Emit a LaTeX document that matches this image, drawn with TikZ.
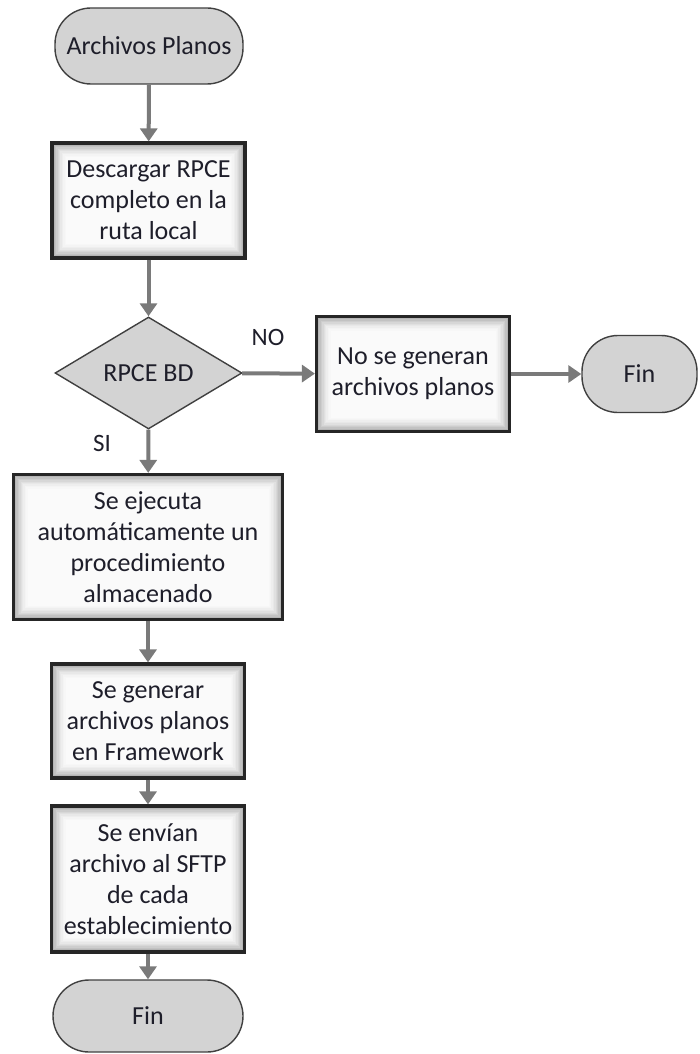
\documentclass[tikz,border=0pt]{standalone}
\usepackage{fontspec}
\setmainfont{Carlito}
\usetikzlibrary{shapes.geometric,arrows.meta}

\definecolor{termfill}{HTML}{D3D3D3}
\definecolor{edgegray}{HTML}{7A7A7A}
\definecolor{boxedge}{HTML}{262626}
\definecolor{txt}{HTML}{1E1E2A}

\tikzset{
  every node/.style={font=\fontsize{26}{31}\selectfont, text=txt, align=center},
  terminal/.style={draw=black!75, line width=1.4pt, fill=termfill,
    rounded corners=36pt, inner sep=0pt},
  decision/.style={diamond, draw=black!75, line width=1.4pt, fill=termfill,
    inner sep=0pt},
  % process box: dark frame with a soft grey inner glow toward the edges
  process/.style={draw=boxedge, line width=3.2pt, inner sep=0pt,
    path picture={
      \foreach \i/\c in {0/30,1/42,2/52,3/61,4/69,5/76,6/82,7/87,8/91,9/94,10/96}{
        \fill[white!\c!gray]
          ([shift={(\i*1.4pt,-\i*1.4pt)}]path picture bounding box.north west)
          rectangle
          ([shift={(-\i*1.4pt,\i*1.4pt)}]path picture bounding box.south east);
      }
    }},
  flow/.style={draw=edgegray, line width=4pt,
    -{Triangle[width=17pt,length=13pt]}},
  branch/.style={font=\fontsize{25}{28}\selectfont}
}

\begin{document}
\begin{tikzpicture}[x=1pt, y=-1pt]
  \useasboundingbox (0,0) rectangle (699,1054);

  \node[terminal, minimum width=188pt, minimum height=76pt] (start) at (149,46) {Archivos Planos};

  \node[process, minimum width=193pt, minimum height=115pt] (dl) at (148.5,200.5)
    {Descargar RPCE\\completo en la\\ruta local};

  \node[decision, minimum width=187pt, minimum height=112pt] (dec) at (148.5,373) {RPCE BD};

  \node[process, minimum width=193pt, minimum height=115pt] (nogen) at (413,374)
    {No se generan\\archivos planos};

  \node[terminal, minimum width=115pt, minimum height=77pt] (fin1) at (639.5,374) {Fin};

  \node[process, minimum width=269pt, minimum height=145pt] (exec) at (148,547)
    {Se ejecuta\\automáticamente un\\procedimiento\\almacenado};

  \node[process, minimum width=193pt, minimum height=114pt] (gen) at (148,721)
    {Se generar\\archivos planos\\en Framework};

  \node[process, minimum width=193pt, minimum height=146pt] (send) at (148,879)
    {Se envían\\archivo al SFTP\\de cada\\establecimiento};

  \node[terminal, minimum width=190pt, minimum height=72pt] (fin2) at (148,1016) {Fin};

  \node[branch] (nolab) at (268,337) {NO};
  \node[branch] (silab) at (102,443) {SI};

  \draw[flow] (start) -- (dl);
  \draw[flow] (dl) -- (dec);
  \draw[flow] (dec) -- (nogen);
  \draw[flow] (nogen) -- (fin1);
  \draw[flow] (dec) -- (exec);
  \draw[flow] (exec) -- (gen);
  \draw[flow] (gen) -- (send);
  \draw[flow] (send) -- (fin2);
\end{tikzpicture}
\end{document}
